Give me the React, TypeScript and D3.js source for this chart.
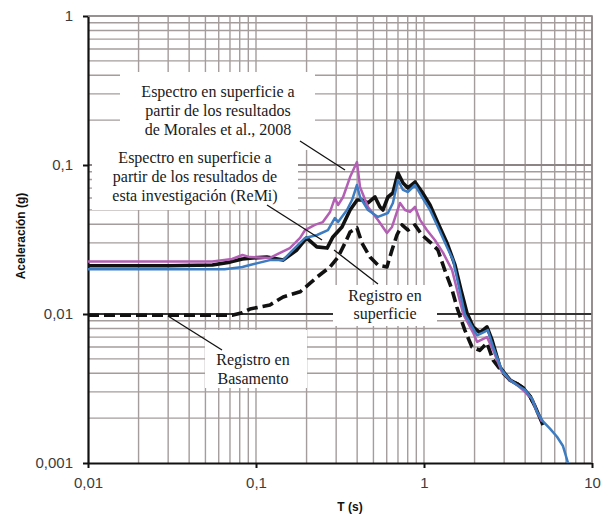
import React, { useEffect, useRef } from 'react';
import * as d3 from 'd3';

// Registro en superficie (black solid)
const periodsSuperficie = [0.01, 0.03, 0.055, 0.07, 0.083, 0.092, 0.116, 0.145, 0.175, 0.2, 0.23, 0.265, 0.287, 0.325, 0.363, 0.4, 0.427, 0.464, 0.511, 0.547, 0.57, 0.61, 0.653, 0.7, 0.75, 0.803, 0.884, 0.973, 1.086, 1.21, 1.37, 1.53, 1.66, 1.8, 1.96, 2.15, 2.37, 2.54, 2.83, 3.25, 3.58, 3.88, 4.28, 4.58, 5.11];
const accelSuperficie = [0.0211, 0.0211, 0.0213, 0.0223, 0.0234, 0.0237, 0.0241, 0.023, 0.0269, 0.0324, 0.0282, 0.0277, 0.0329, 0.0384, 0.0499, 0.0582, 0.0582, 0.0556, 0.061, 0.0523, 0.0499, 0.061, 0.0649, 0.0884, 0.0757, 0.0701, 0.0769, 0.0659, 0.0539, 0.0408, 0.03, 0.0213, 0.0145, 0.0102, 0.0082, 0.0075, 0.0082, 0.0067, 0.0044, 0.0036, 0.0034, 0.0032, 0.0028, 0.0024, 0.0018];

// Registro en Basamento (black dashed)
const periodsBasamento = [0.01, 0.072, 0.083, 0.092, 0.121, 0.145, 0.183, 0.21, 0.231, 0.276, 0.308, 0.339, 0.363, 0.399, 0.427, 0.477, 0.532, 0.602, 0.645, 0.69, 0.74, 0.803, 0.884, 0.973, 1.086, 1.21, 1.33, 1.47, 1.57, 1.75, 1.93, 2.15, 2.37, 2.58, 2.91, 3.25, 3.58, 3.88, 4.28, 4.58];
const accelBasamento = [0.0098, 0.0098, 0.0102, 0.0108, 0.0115, 0.013, 0.0141, 0.0161, 0.0177, 0.0207, 0.0241, 0.03, 0.0355, 0.0378, 0.03, 0.0241, 0.0213, 0.0207, 0.0269, 0.0339, 0.0396, 0.0366, 0.0396, 0.0339, 0.0304, 0.0269, 0.0197, 0.0145, 0.0111, 0.0078, 0.006, 0.0057, 0.0064, 0.0049, 0.0041, 0.0036, 0.0034, 0.0032, 0.0028, 0.0024];

// Morales et al., 2008 (purple)
const periodsMorales = [0.01, 0.055, 0.072, 0.083, 0.092, 0.121, 0.139, 0.159, 0.183, 0.196, 0.224, 0.25, 0.276, 0.295, 0.308, 0.33, 0.363, 0.399, 0.416, 0.464, 0.532, 0.602, 0.645, 0.69, 0.72, 0.771, 0.826, 0.884, 0.947, 1.04, 1.16, 1.3, 1.47, 1.71, 1.96, 2.07, 2.37, 2.58, 2.91, 3.25, 3.63, 3.99, 4.39, 4.71, 5.04];
const accelMorales = [0.0225, 0.0225, 0.0234, 0.0249, 0.0241, 0.0238, 0.0257, 0.0277, 0.0324, 0.0366, 0.0396, 0.0414, 0.0484, 0.0601, 0.0539, 0.061, 0.083, 0.1047, 0.0712, 0.0523, 0.0428, 0.035, 0.0384, 0.0484, 0.0556, 0.0499, 0.0484, 0.0523, 0.0428, 0.0366, 0.0314, 0.0257, 0.0197, 0.01, 0.0075, 0.0065, 0.007, 0.0057, 0.0041, 0.0036, 0.0033, 0.003, 0.0027, 0.0022, 0.0019];

// esta investigación, ReMi (blue)
const periodsReMi = [0.01, 0.065, 0.083, 0.092, 0.121, 0.145, 0.166, 0.196, 0.231, 0.268, 0.295, 0.308, 0.348, 0.373, 0.399, 0.416, 0.464, 0.532, 0.61, 0.653, 0.7, 0.75, 0.803, 0.884, 0.973, 1.086, 1.21, 1.37, 1.49, 1.75, 2.07, 2.24, 2.4, 2.58, 2.91, 3.25, 3.63, 3.99, 4.39, 4.71, 5.11, 5.62, 6.19, 6.72, 7.2];
const accelReMi = [0.02, 0.02, 0.0207, 0.0213, 0.023, 0.023, 0.0269, 0.0324, 0.0339, 0.0366, 0.0441, 0.0414, 0.0499, 0.0582, 0.0734, 0.061, 0.0499, 0.0448, 0.0476, 0.0556, 0.0793, 0.068, 0.0659, 0.0734, 0.061, 0.0499, 0.0384, 0.0282, 0.023, 0.01, 0.0072, 0.0075, 0.0078, 0.006, 0.0042, 0.0036, 0.0033, 0.0031, 0.0027, 0.0022, 0.0019, 0.0017, 0.0015, 0.0013, 0.001];

const xTicks = [0.01, 0.1, 1, 10];
const xTickLabels = ['0,01', '0,1', '1', '10'];
const yTicks = [0.001, 0.01, 0.1, 1];
const yTickLabels = ['0,001', '0,01', '0,1', '1'];

const labelMorales = ['Espectro en superficie a', 'partir de los resultados', 'de Morales et al., 2008'];
const labelReMi = ['Espectro en superficie a', 'partir de los resultados de', 'esta investigación (ReMi)'];
const labelSuperficie = ['Registro en', 'superficie'];
const labelBasamento = ['Registro en', 'Basamento'];

const width = 609;
const height = 521;
const margin = { top: 16, right: 17, bottom: 58, left: 88 };

const gridColor = '#a59c9c';
const sansFont = "'Liberation Sans', Arial, sans-serif";
const serifFont = "'Liberation Serif', 'Times New Roman', serif";

export default function App() {
  const ref = useRef<SVGSVGElement>(null);

  useEffect(() => {
    const svg = d3.select(ref.current);
    svg.selectAll('*').remove();

    const x = d3.scaleLog().domain([0.01, 10]).range([margin.left, width - margin.right]);
    const y = d3.scaleLog().domain([0.001, 1]).range([height - margin.bottom, margin.top]);
    const [x0, x1] = x.range();
    const [y0, y1] = y.range();

    svg.append('rect').attr('width', width).attr('height', height).attr('fill', '#fff');

    // grid lines at 1..9 of each decade
    const xGrid: number[] = [];
    [0.01, 0.1, 1].forEach((d) => { for (let k = 2; k <= 10; k++) xGrid.push(d * k); });
    const yGrid: number[] = [];
    [0.001, 0.01, 0.1].forEach((d) => { for (let k = 2; k <= 10; k++) yGrid.push(d * k); });

    const grid = svg.append('g');
    grid.selectAll('.vgrid')
      .data(xGrid)
      .enter().append('line')
      .attr('x1', (d) => x(d)).attr('x2', (d) => x(d))
      .attr('y1', y1).attr('y2', y0)
      .attr('stroke', gridColor)
      .attr('stroke-width', 1.4);

    grid.selectAll('.hgrid')
      .data(yGrid)
      .enter().append('line')
      .attr('x1', x0).attr('x2', x1)
      .attr('y1', (d) => y(d)).attr('y2', (d) => y(d))
      .attr('stroke', (d) => Math.abs(d - 0.01) < 1e-9 ? '#333' : Math.abs(d - 0.1) < 1e-9 ? '#8d8585' : gridColor)
      .attr('stroke-width', (d) => Math.abs(d - 0.01) < 1e-9 || Math.abs(d - 0.1) < 1e-9 ? 2 : 1.4);

    // white boxes behind the annotations
    const boxes = [
      [120, 72, 195, 78],
      [92, 150, 206, 60],
      [333, 285, 104, 41],
      [205, 330, 102, 58],
    ];
    svg.selectAll('.box')
      .data(boxes)
      .enter().append('rect')
      .attr('x', (d) => d[0]).attr('y', (d) => d[1])
      .attr('width', (d) => d[2]).attr('height', (d) => d[3])
      .attr('fill', '#fff');

    // axes
    const xAxis = d3.axisBottom(x)
      .tickValues(xTicks)
      .tickFormat((d, i) => xTickLabels[i])
      .tickSize(5)
      .tickPadding(9)
      .tickSizeOuter(0);
    const yAxis = d3.axisLeft(y)
      .tickValues(yTicks)
      .tickFormat((d, i) => yTickLabels[i])
      .tickSize(5)
      .tickPadding(10)
      .tickSizeOuter(0);

    const gx = svg.append('g')
      .attr('transform', 'translate(0,' + y0 + ')')
      .call(xAxis);
    const gy = svg.append('g')
      .attr('transform', 'translate(' + x0 + ',0)')
      .call(yAxis);

    [gx, gy].forEach((g) => {
      g.select('.domain').attr('stroke', '#111').attr('stroke-width', 2.2);
      g.selectAll('.tick line').attr('stroke', '#111').attr('stroke-width', 2);
      g.selectAll('.tick text')
        .attr('fill', '#3c3c3c')
        .style('font-family', sansFont)
        .style('font-size', '15px');
    });

    // curves
    const line = d3.line<[number, number]>()
      .x((d) => x(d[0]))
      .y((d) => y(d[1]));

    const series = [
      { t: periodsBasamento, a: accelBasamento, color: '#111', w: 3.6, dash: '11,5' },
      { t: periodsSuperficie, a: accelSuperficie, color: '#111', w: 3.6, dash: null },
      { t: periodsMorales, a: accelMorales, color: '#b25fb4', w: 2.5, dash: null },
      { t: periodsReMi, a: accelReMi, color: '#3d7cc0', w: 2.5, dash: null },
    ];

    svg.selectAll('.curve')
      .data(series)
      .enter().append('path')
      .attr('class', 'curve')
      .attr('d', (s) => line(d3.zip(s.t, s.a) as [number, number][]))
      .attr('fill', 'none')
      .attr('stroke', (s) => s.color)
      .attr('stroke-width', (s) => s.w)
      .attr('stroke-dasharray', (s) => s.dash)
      .attr('stroke-linejoin', 'round');

    // annotations
    const notes = [
      { lines: labelMorales, cx: 218, top: 97, step: 19 },
      { lines: labelReMi, cx: 195, top: 163, step: 19 },
      { lines: labelSuperficie, cx: 385, top: 301, step: 18 },
      { lines: labelBasamento, cx: 253, top: 365, step: 19 },
    ];
    notes.forEach((n) => {
      svg.append('g').selectAll('text')
        .data(n.lines)
        .enter().append('text')
        .attr('x', n.cx)
        .attr('y', (d, i) => n.top + i * n.step)
        .attr('text-anchor', 'middle')
        .attr('fill', '#1a1a1a')
        .style('font-family', serifFont)
        .style('font-size', '16px')
        .text((d) => d);
    });

    const leaders = [
      [300, 141, 345, 170],
      [267, 205, 322, 240],
      [334, 250, 378, 284],
      [168, 316, 222, 350],
    ];
    svg.selectAll('.leader')
      .data(leaders)
      .enter().append('line')
      .attr('x1', (d) => d[0]).attr('y1', (d) => d[1])
      .attr('x2', (d) => d[2]).attr('y2', (d) => d[3])
      .attr('stroke', '#111')
      .attr('stroke-width', 1.3);

    // top and right border
    svg.append('path')
      .attr('d', 'M' + x0 + ',' + y1 + 'H' + x1 + 'V' + y0)
      .attr('fill', 'none')
      .attr('stroke', '#8d8585')
      .attr('stroke-width', 1.6);

    // axis titles
    svg.append('text')
      .attr('transform', 'translate(25,' + 236 + ') rotate(-90)')
      .attr('text-anchor', 'middle')
      .attr('fill', '#111')
      .style('font-family', sansFont)
      .style('font-size', '12px')
      .style('font-weight', 'bold')
      .text('Aceleración (g)');

    svg.append('text')
      .attr('x', 350)
      .attr('y', 511)
      .attr('text-anchor', 'middle')
      .attr('fill', '#111')
      .style('font-family', sansFont)
      .style('font-size', '12px')
      .style('font-weight', 'bold')
      .text('T (s)');
  }, []);

  return (
    <div style={{ position: 'absolute', left: 0, top: 0 }}>
      <svg width={width} height={height} ref={ref} style={{ display: 'block' }}></svg>
    </div>
  );
}
